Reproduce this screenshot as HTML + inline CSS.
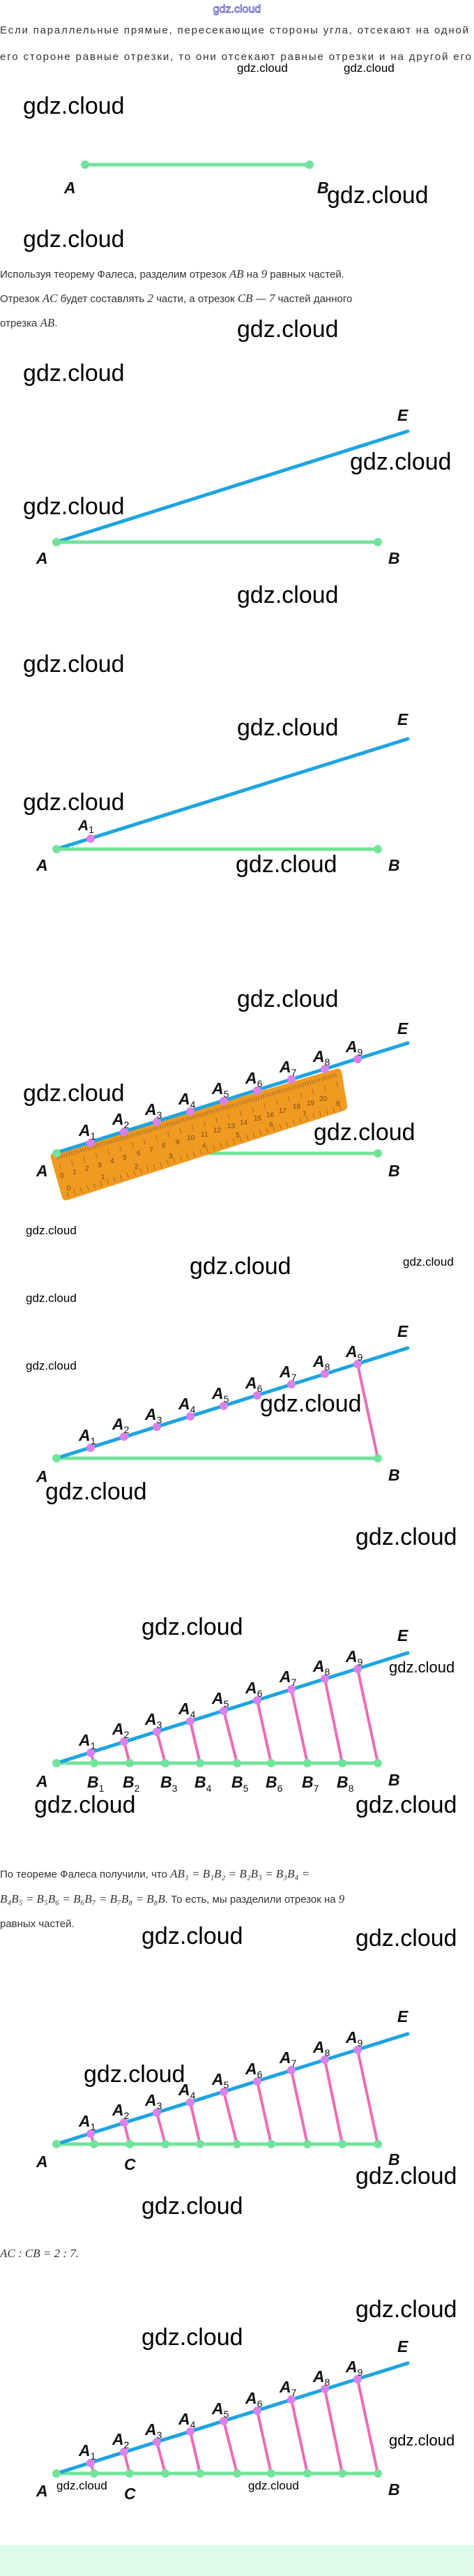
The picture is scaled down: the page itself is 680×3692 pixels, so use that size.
<!DOCTYPE html>
<html><head><meta charset="utf-8">
<style>
html,body{margin:0;padding:0;background:#fff;}
svg{display:block;}
.w{font-family:"Liberation Sans",sans-serif;font-size:34px;fill:#000;}
.ws{font-family:"Liberation Sans",sans-serif;font-size:17px;fill:#000;}
.wm{font-family:"Liberation Sans",sans-serif;font-size:22px;fill:#000;}
.t{font-family:"Liberation Sans","Noto Sans CJK SC",sans-serif;font-size:15px;fill:#333;}
.m{font-family:"Liberation Serif",serif;font-style:italic;font-size:17px;fill:#333;}
.l{font-family:"Liberation Sans",sans-serif;font-style:italic;font-weight:bold;font-size:23px;fill:#111;}
.l tspan.s{font-size:14px;font-style:normal;font-weight:normal;}
.g{stroke:#72e39c;stroke-width:5;stroke-linecap:round;}
.b{stroke:#1ea4e0;stroke-width:5;stroke-linecap:round;}
.p{stroke:#ec6cb6;stroke-width:4;stroke-linecap:round;}
.gd{fill:#72e39c;}
.pd{fill:#d882ea;}
</style></head><body>
<svg width="680" height="3692" viewBox="0 0 680 3692" xmlns="http://www.w3.org/2000/svg">
<!-- header -->
<text x="340" y="18" text-anchor="middle" style="font-family:'Liberation Sans',sans-serif;font-size:16px;fill:#fff;stroke:#4848c8;stroke-width:0.8">gdz.cloud</text>
<text class="t" x="0" y="48" textLength="672">Если параллельные прямые, пересекающие стороны угла, отсекают на одной</text>
<text class="t" x="0" y="86" textLength="676">его стороне равные отрезки, то они отсекают равные отрезки и на другой его</text>
<text class="ws" x="340" y="103">gdz.cloud</text>
<text class="ws" x="493" y="103">gdz.cloud</text>

<!-- fig 1 -->
<text class="w" x="33" y="163">gdz.cloud</text>
<line class="g" x1="122" y1="236" x2="444" y2="236"/>
<circle class="gd" cx="122" cy="236" r="6"/><circle class="gd" cx="444" cy="236" r="6"/>
<text class="l" x="92" y="277">A</text><text class="l" x="455" y="277">B</text>
<text class="w" x="469" y="291">gdz.cloud</text>
<text class="w" x="33" y="354">gdz.cloud</text>

<text class="t" x="0" y="398">Используя теорему Фалеса, разделим отрезок <tspan class="m">AB</tspan> на <tspan class="m" font-style="normal">9</tspan> равных частей.</text>
<text class="t" x="0" y="433">Отрезок <tspan class="m">AC</tspan> будет составлять <tspan class="m" font-style="normal">2</tspan> части, а отрезок <tspan class="m">CB</tspan> — <tspan class="m" font-style="normal">7</tspan> частей данного</text>
<text class="t" x="0" y="468">отрезка <tspan class="m">AB</tspan>.</text>
<text class="w" x="340" y="483">gdz.cloud</text>

<!-- fig 2 -->
<text class="w" x="33" y="546">gdz.cloud</text>
<text class="l" x="570" y="603">E</text>
<line class="b" x1="84" y1="776" x2="585" y2="618"/>
<text class="w" x="502" y="673">gdz.cloud</text>
<text class="w" x="33" y="737">gdz.cloud</text>
<line class="g" x1="81" y1="777" x2="542" y2="777"/>
<circle class="gd" cx="81" cy="777" r="6"/><circle class="gd" cx="542" cy="777" r="6"/>
<text class="l" x="52" y="808">A</text><text class="l" x="557" y="808">B</text>
<text class="w" x="340" y="864">gdz.cloud</text>

<!-- fig 3 -->
<text class="w" x="33" y="963">gdz.cloud</text>
<text class="l" x="570" y="1039">E</text>
<text class="w" x="340" y="1054">gdz.cloud</text>
<line class="b" x1="84" y1="1216" x2="585" y2="1059"/>
<text class="w" x="33" y="1161">gdz.cloud</text>
<line class="g" x1="81" y1="1217" x2="542" y2="1217"/>
<circle class="gd" cx="81" cy="1217" r="6"/><circle class="gd" cx="542" cy="1217" r="6"/>
<circle class="pd" cx="130" cy="1202" r="6"/>
<text class="l" x="112" y="1190" style="font-size:21px">A<tspan class="s" font-size="12" dy="4">1</tspan></text>
<text class="l" x="52" y="1248">A</text><text class="l" x="557" y="1248">B</text>
<text class="w" x="338" y="1250">gdz.cloud</text>

<!-- fig 4 ruler -->
<text class="w" x="340" y="1443">gdz.cloud</text>
<text class="l" x="570" y="1482">E</text>
<line class="g" x1="81" y1="1653" x2="542" y2="1653"/>
<circle class="gd" cx="542" cy="1653" r="6"/>
<path d="M76,1652 L482,1532 Q488,1530 490,1536 L498,1584 Q499,1590 493,1592 L97,1720 Q91,1722 89,1716 L73,1660 Q72,1654 76,1652 Z" fill="#f09a22"/>
<line x1="82" y1="1659" x2="484" y2="1540" stroke="#9a6a2a" stroke-width="6" stroke-dasharray="1 2.5"/>
<line x1="86" y1="1672" x2="488" y2="1553" stroke="#a86a1a" stroke-width="8" stroke-dasharray="1 17"/>
<line x1="97" y1="1712" x2="494" y2="1585" stroke="#a86a1a" stroke-width="8" stroke-dasharray="1 9"/>
<g font-family="Liberation Sans,sans-serif" font-size="10" fill="#7a4a10">
<text x="86" y="1688">0</text><text x="104" y="1683">1</text><text x="122" y="1678">2</text><text x="140" y="1673">3</text><text x="158" y="1667">4</text><text x="176" y="1662">5</text><text x="196" y="1656">6</text><text x="214" y="1651">7</text><text x="232" y="1645">8</text><text x="252" y="1640">9</text><text x="268" y="1634">10</text><text x="288" y="1629">11</text><text x="306" y="1623">12</text><text x="326" y="1617">13</text><text x="344" y="1612">14</text><text x="364" y="1606">15</text><text x="382" y="1601">16</text><text x="400" y="1595">17</text><text x="420" y="1589">18</text><text x="440" y="1584">19</text><text x="458" y="1578">20</text>
<text x="96" y="1706">0</text><text x="145" y="1690">1</text><text x="193" y="1675">2</text><text x="242" y="1660">3</text><text x="290" y="1645">4</text><text x="338" y="1630">5</text><text x="386" y="1615">6</text><text x="434" y="1600">7</text><text x="482" y="1585">8</text>
</g>
<line class="b" x1="81" y1="1652" x2="585" y2="1495"/>
<circle class="gd" cx="81" cy="1653" r="6"/>
<g class="pd"><circle cx="130" cy="1638" r="6"/><circle cx="178" cy="1622" r="6"/><circle cx="225" cy="1608" r="6"/><circle cx="273" cy="1593" r="6"/><circle cx="321" cy="1578" r="6"/><circle cx="369" cy="1563" r="6"/><circle cx="418" cy="1547" r="6"/><circle cx="466" cy="1532" r="6"/><circle cx="513" cy="1518" r="6"/></g>
<g class="l"><text x="113" y="1628">A<tspan class="s" dy="5">1</tspan></text><text x="161" y="1612">A<tspan class="s" dy="5">2</tspan></text><text x="208" y="1598">A<tspan class="s" dy="5">3</tspan></text><text x="256" y="1583">A<tspan class="s" dy="5">4</tspan></text><text x="304" y="1568">A<tspan class="s" dy="5">5</tspan></text><text x="352" y="1553">A<tspan class="s" dy="5">6</tspan></text><text x="401" y="1537">A<tspan class="s" dy="5">7</tspan></text><text x="449" y="1522">A<tspan class="s" dy="5">8</tspan></text><text x="496" y="1508">A<tspan class="s" dy="5">9</tspan></text></g>
<text class="w" x="33" y="1578">gdz.cloud</text>
<text class="w" x="450" y="1634">gdz.cloud</text>
<text class="l" x="52" y="1686">A</text><text class="l" x="557" y="1686">B</text>
<text class="ws" x="37" y="1769">gdz.cloud</text>

<!-- fig 5 -->
<text class="w" x="272" y="1826">gdz.cloud</text>
<text class="ws" x="578" y="1814">gdz.cloud</text>
<text class="ws" x="37" y="1866">gdz.cloud</text>
<text class="ws" x="37" y="1963">gdz.cloud</text>
<text class="l" x="570" y="1916">E</text>
<line class="g" x1="81" y1="2090" x2="542" y2="2090"/>
<line class="p" x1="513" y1="1955" x2="542" y2="2090"/>
<line class="b" x1="84" y1="2089" x2="585" y2="1932"/>
<circle class="gd" cx="81" cy="2090" r="6"/><circle class="gd" cx="542" cy="2090" r="6"/>
<g class="pd"><circle cx="130" cy="2075" r="6"/><circle cx="178" cy="2059" r="6"/><circle cx="225" cy="2045" r="6"/><circle cx="273" cy="2030" r="6"/><circle cx="321" cy="2015" r="6"/><circle cx="369" cy="2000" r="6"/><circle cx="418" cy="1984" r="6"/><circle cx="466" cy="1969" r="6"/><circle cx="513" cy="1955" r="6"/></g>
<g class="l"><text x="113" y="2065">A<tspan class="s" dy="5">1</tspan></text><text x="161" y="2049">A<tspan class="s" dy="5">2</tspan></text><text x="208" y="2035">A<tspan class="s" dy="5">3</tspan></text><text x="256" y="2020">A<tspan class="s" dy="5">4</tspan></text><text x="304" y="2005">A<tspan class="s" dy="5">5</tspan></text><text x="352" y="1990">A<tspan class="s" dy="5">6</tspan></text><text x="401" y="1974">A<tspan class="s" dy="5">7</tspan></text><text x="449" y="1959">A<tspan class="s" dy="5">8</tspan></text><text x="496" y="1945">A<tspan class="s" dy="5">9</tspan></text></g>
<text class="w" x="373" y="2023">gdz.cloud</text>
<text class="l" x="52" y="2124">A</text><text class="l" x="557" y="2122">B</text>
<text class="w" x="65" y="2149">gdz.cloud</text>
<text class="w" x="510" y="2214">gdz.cloud</text>

<!-- fig 6 -->
<text class="w" x="203" y="2343">gdz.cloud</text>
<text class="l" x="570" y="2352">E</text>
<text class="wm" x="558" y="2397">gdz.cloud</text>
<g class="p"><line x1="130" y1="2512" x2="135" y2="2527"/><line x1="178" y1="2496" x2="186" y2="2527"/><line x1="225" y1="2482" x2="237" y2="2527"/><line x1="273" y1="2467" x2="287" y2="2527"/><line x1="321" y1="2452" x2="340" y2="2527"/><line x1="369" y1="2437" x2="389" y2="2527"/><line x1="418" y1="2421" x2="441" y2="2527"/><line x1="466" y1="2406" x2="491" y2="2527"/><line x1="513" y1="2392" x2="542" y2="2527"/></g>
<line class="g" x1="81" y1="2527" x2="542" y2="2527"/>
<line class="b" x1="84" y1="2526" x2="585" y2="2369"/>
<g class="gd"><circle cx="81" cy="2527" r="6"/><circle cx="135" cy="2527" r="6"/><circle cx="186" cy="2527" r="6"/><circle cx="237" cy="2527" r="6"/><circle cx="287" cy="2527" r="6"/><circle cx="340" cy="2527" r="6"/><circle cx="389" cy="2527" r="6"/><circle cx="441" cy="2527" r="6"/><circle cx="491" cy="2527" r="6"/><circle cx="542" cy="2527" r="6"/></g>
<g class="pd"><circle cx="130" cy="2512" r="6"/><circle cx="178" cy="2496" r="6"/><circle cx="225" cy="2482" r="6"/><circle cx="273" cy="2467" r="6"/><circle cx="321" cy="2452" r="6"/><circle cx="369" cy="2437" r="6"/><circle cx="418" cy="2421" r="6"/><circle cx="466" cy="2406" r="6"/><circle cx="513" cy="2392" r="6"/></g>
<g class="l"><text x="113" y="2502">A<tspan class="s" dy="5">1</tspan></text><text x="161" y="2486">A<tspan class="s" dy="5">2</tspan></text><text x="208" y="2472">A<tspan class="s" dy="5">3</tspan></text><text x="256" y="2457">A<tspan class="s" dy="5">4</tspan></text><text x="304" y="2442">A<tspan class="s" dy="5">5</tspan></text><text x="352" y="2427">A<tspan class="s" dy="5">6</tspan></text><text x="401" y="2411">A<tspan class="s" dy="5">7</tspan></text><text x="449" y="2396">A<tspan class="s" dy="5">8</tspan></text><text x="496" y="2382">A<tspan class="s" dy="5">9</tspan></text></g>
<g class="l"><text x="52" y="2561">A</text><text x="557" y="2559">B</text>
<text x="125" y="2562">B<tspan class="s" dy="6">1</tspan></text><text x="176" y="2562">B<tspan class="s" dy="6">2</tspan></text><text x="230" y="2562">B<tspan class="s" dy="6">3</tspan></text><text x="279" y="2562">B<tspan class="s" dy="6">4</tspan></text><text x="332" y="2562">B<tspan class="s" dy="6">5</tspan></text><text x="381" y="2562">B<tspan class="s" dy="6">6</tspan></text><text x="433" y="2562">B<tspan class="s" dy="6">7</tspan></text><text x="483" y="2562">B<tspan class="s" dy="6">8</tspan></text></g>
<text class="w" x="49" y="2598">gdz.cloud</text>
<text class="w" x="510" y="2598">gdz.cloud</text>

<text class="t" x="0" y="2691">По теореме Фалеса получили, что <tspan class="m">AB₁ = B₁B₂ = B₂B₃ = B₃B₄ =</tspan></text>
<text class="t" x="0" y="2727"><tspan class="m">B₄B₅ = B₅B₆ = B₆B₇ = B₇B₈ = B₈B</tspan>. То есть, мы разделили отрезок на <tspan class="m" font-style="normal">9</tspan></text>
<text class="t" x="0" y="2762">равных частей.</text>
<text class="w" x="203" y="2786">gdz.cloud</text>
<text class="w" x="510" y="2789">gdz.cloud</text>

<!-- fig 8 -->
<text class="l" x="570" y="2898">E</text>
<g class="p"><line x1="130" y1="3058" x2="135" y2="3073"/><line x1="178" y1="3042" x2="186" y2="3073"/><line x1="225" y1="3028" x2="237" y2="3073"/><line x1="273" y1="3013" x2="287" y2="3073"/><line x1="321" y1="2998" x2="340" y2="3073"/><line x1="369" y1="2983" x2="389" y2="3073"/><line x1="418" y1="2967" x2="441" y2="3073"/><line x1="466" y1="2952" x2="491" y2="3073"/><line x1="513" y1="2938" x2="542" y2="3073"/></g>
<line class="g" x1="81" y1="3073" x2="542" y2="3073"/>
<line class="b" x1="84" y1="3072" x2="585" y2="2915"/>
<g class="gd"><circle cx="81" cy="3073" r="6"/><circle cx="135" cy="3073" r="6"/><circle cx="186" cy="3073" r="6"/><circle cx="237" cy="3073" r="6"/><circle cx="287" cy="3073" r="6"/><circle cx="340" cy="3073" r="6"/><circle cx="389" cy="3073" r="6"/><circle cx="441" cy="3073" r="6"/><circle cx="491" cy="3073" r="6"/><circle cx="542" cy="3073" r="6"/></g>
<g class="pd"><circle cx="130" cy="3058" r="6"/><circle cx="178" cy="3042" r="6"/><circle cx="225" cy="3028" r="6"/><circle cx="273" cy="3013" r="6"/><circle cx="321" cy="2998" r="6"/><circle cx="369" cy="2983" r="6"/><circle cx="418" cy="2967" r="6"/><circle cx="466" cy="2952" r="6"/><circle cx="513" cy="2938" r="6"/></g>
<g class="l"><text x="113" y="3048">A<tspan class="s" dy="5">1</tspan></text><text x="161" y="3032">A<tspan class="s" dy="5">2</tspan></text><text x="208" y="3018">A<tspan class="s" dy="5">3</tspan></text><text x="256" y="3003">A<tspan class="s" dy="5">4</tspan></text><text x="304" y="2988">A<tspan class="s" dy="5">5</tspan></text><text x="352" y="2973">A<tspan class="s" dy="5">6</tspan></text><text x="401" y="2957">A<tspan class="s" dy="5">7</tspan></text><text x="449" y="2942">A<tspan class="s" dy="5">8</tspan></text><text x="496" y="2928">A<tspan class="s" dy="5">9</tspan></text></g>
<text class="w" x="120" y="2984">gdz.cloud</text>
<g class="l"><text x="52" y="3106">A</text><text x="178" y="3110">C</text><text x="557" y="3103">B</text></g>
<text class="w" x="510" y="3130">gdz.cloud</text>
<text class="w" x="203" y="3173">gdz.cloud</text>

<text class="m" x="0" y="3235">AC : CB = 2 : 7.</text>

<!-- fig 9 -->
<text class="w" x="510" y="3321">gdz.cloud</text>
<text class="w" x="203" y="3361">gdz.cloud</text>
<text class="l" x="570" y="3371">E</text>
<g class="p"><line x1="130" y1="3530" x2="135" y2="3545"/><line x1="178" y1="3514" x2="186" y2="3545"/><line x1="225" y1="3500" x2="237" y2="3545"/><line x1="273" y1="3485" x2="287" y2="3545"/><line x1="321" y1="3470" x2="340" y2="3545"/><line x1="369" y1="3455" x2="389" y2="3545"/><line x1="418" y1="3439" x2="441" y2="3545"/><line x1="466" y1="3424" x2="491" y2="3545"/><line x1="513" y1="3410" x2="542" y2="3545"/></g>
<line class="g" x1="81" y1="3545" x2="542" y2="3545"/>
<line class="b" x1="84" y1="3544" x2="585" y2="3387"/>
<g class="gd"><circle cx="81" cy="3545" r="6"/><circle cx="135" cy="3545" r="6"/><circle cx="186" cy="3545" r="6"/><circle cx="237" cy="3545" r="6"/><circle cx="287" cy="3545" r="6"/><circle cx="340" cy="3545" r="6"/><circle cx="389" cy="3545" r="6"/><circle cx="441" cy="3545" r="6"/><circle cx="491" cy="3545" r="6"/><circle cx="542" cy="3545" r="6"/></g>
<g class="pd"><circle cx="130" cy="3530" r="6"/><circle cx="178" cy="3514" r="6"/><circle cx="225" cy="3500" r="6"/><circle cx="273" cy="3485" r="6"/><circle cx="321" cy="3470" r="6"/><circle cx="369" cy="3455" r="6"/><circle cx="418" cy="3439" r="6"/><circle cx="466" cy="3424" r="6"/><circle cx="513" cy="3410" r="6"/></g>
<g class="l"><text x="113" y="3520">A<tspan class="s" dy="5">1</tspan></text><text x="161" y="3504">A<tspan class="s" dy="5">2</tspan></text><text x="208" y="3490">A<tspan class="s" dy="5">3</tspan></text><text x="256" y="3475">A<tspan class="s" dy="5">4</tspan></text><text x="304" y="3460">A<tspan class="s" dy="5">5</tspan></text><text x="352" y="3445">A<tspan class="s" dy="5">6</tspan></text><text x="401" y="3429">A<tspan class="s" dy="5">7</tspan></text><text x="449" y="3414">A<tspan class="s" dy="5">8</tspan></text><text x="496" y="3400">A<tspan class="s" dy="5">9</tspan></text></g>
<text class="wm" x="558" y="3505">gdz.cloud</text>
<text class="ws" x="81" y="3568">gdz.cloud</text>
<text class="ws" x="356" y="3568">gdz.cloud</text>
<g class="l"><text x="52" y="3578">A</text><text x="178" y="3582">C</text><text x="557" y="3576">B</text></g>

<rect x="0" y="3648" width="680" height="44" fill="#dcfbe8"/>
</svg>
</body></html>
